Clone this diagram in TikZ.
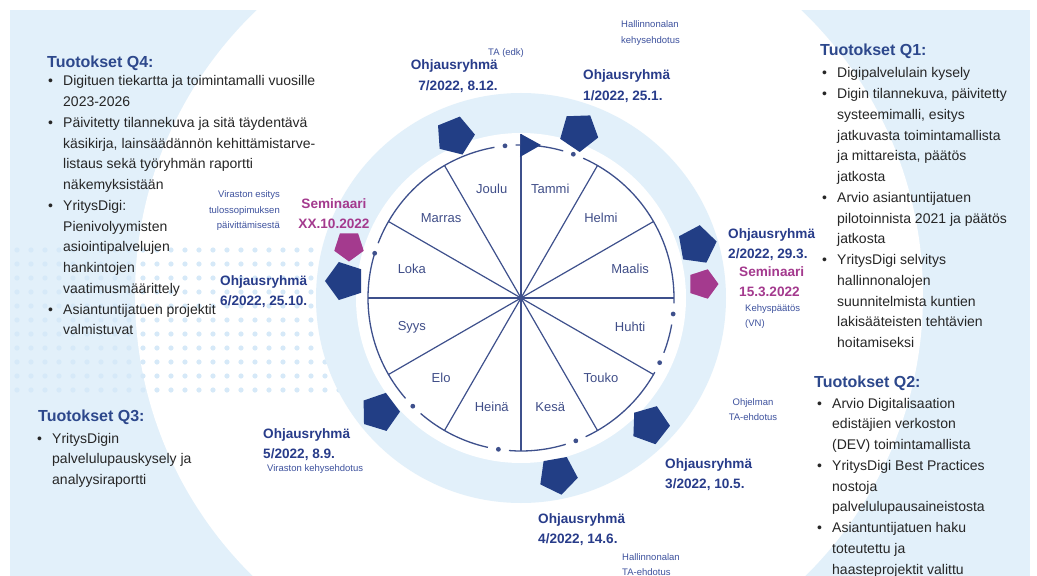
\documentclass[tikz,border=0pt]{standalone}
\usepackage{fontspec}
\setmainfont{Liberation Sans}
\usetikzlibrary{shapes.geometric, positioning}

\definecolor{bgblue}{RGB}{226,240,250}
\definecolor{dotblue}{RGB}{214,233,248}
\definecolor{navy}{RGB}{34,62,133}
\definecolor{wheelline}{RGB}{62,80,140}
\definecolor{headblue}{RGB}{45,72,140}
\definecolor{labelblue}{RGB}{40,60,138}
\definecolor{smallblue}{RGB}{62,82,158}
\definecolor{monthblue}{RGB}{64,78,136}
\definecolor{semmagenta}{RGB}{164,58,142}
\definecolor{bodygray}{RGB}{38,38,38}

\newcommand{\bulletlist}[1]{\begin{tabular}[t]{@{}p{15pt}@{}l@{}}#1\end{tabular}}
\newcommand{\textlines}[2][l]{\begin{tabular}[t]{@{}#1@{}}#2\end{tabular}}

\tikzstyle{heading} = [anchor=base west, inner sep=0, font=\fontsize{16}{19}\selectfont\bfseries, text=headblue]
\tikzstyle{bullets} = [anchor=base west, inner sep=0, font=\fontsize{14}{20.75}\selectfont, text=bodygray]
\tikzstyle{group} = [inner sep=0, font=\fontsize{13.6}{20.5}\selectfont\bfseries, text=labelblue]
\tikzstyle{seminar} = [group, text=semmagenta]
\tikzstyle{note} = [inner sep=0, font=\fontsize{9.5}{15.5}\selectfont, text=smallblue]
\tikzstyle{month} = [font=\fontsize{13}{15}\selectfont, text=monthblue]
\tikzstyle{meeting} = [regular polygon, regular polygon sides=5, minimum size=40pt, inner sep=0, fill=navy]
\tikzstyle{seminarmark} = [meeting, fill=semmagenta, minimum size=31pt]
\tikzstyle{spoke} = [draw=wheelline, line width=1.2pt]
\tikzstyle{rim} = [draw=wheelline, line width=1.3pt]

\begin{document}
\begin{tikzpicture}[x=1pt, y=1pt]
\useasboundingbox (-521,298) rectangle (516,-278);

% background
\fill[bgblue] (-511,288) rectangle (509,-278);
\begin{scope}
\clip (-511,288) rectangle (509,-278);
\fill[white] (8,3) circle[radius=394];
\end{scope}
\foreach \x in {-504,-490,...,-168}
  \foreach \y in {48,34,...,-104}
    \fill[dotblue] (\x,\y) circle[radius=2.6];
\fill[bgblue] (0,0) circle[radius=205];
\fill[white] (0,0) circle[radius=165];

% wheel
\node (hub) [circle, fill=wheelline, inner sep=0, minimum size=6pt] at (0,0) {};
\coordinate (flagtop) at (0,164);
\coordinate (bottom) at (0,-153);
\foreach \a in {0,30,60,120,150,180,210,240,300,330}
  \draw[spoke] (hub.center) -- (\a:153);
\draw[spoke, line width=2pt] (bottom) -- (flagtop);
\foreach \s/\e in {159/100, 92/74, 66/-2, -10/-21, -29/-65, -73/-94.5, -102.5/-131, -139/-197}
  \draw[rim] (\s:153) arc[start angle=\s, end angle=\e, radius=153];
\foreach \a in {163,96,70,-6,-25,-69,-98.5,-135}
  \fill[wheelline] (\a:153) circle[radius=2.4];
\fill[navy] (flagtop) -- (20,153) -- (-1,141) -- cycle;

\foreach \m [count=\i] in {Tammi,Helmi,Maalis,Huhti,Touko,Kesä,Heinä,Elo,Syys,Loka,Marras,Joulu}
  \node (m\i) [month] at ({105-30*\i}:113) {\m};

% meetings
\node (og7) [meeting, rotate=-158] at (-66,162) {};
\node (og1) [meeting, rotate=110] at (58,166) {};
\node (og2) [meeting, rotate=-80] at (176,53) {};
\node (sem3) [seminarmark, rotate=-90] at (182,14) {};
\node (og3) [meeting, rotate=-20] at (129,-127) {};
\node (og4) [meeting, rotate=-170] at (37,-177) {};
\node (og5) [meeting, rotate=55] at (-141,-114) {};
\node (og6) [meeting, rotate=90] at (-176,17) {};
\node (sem10) [seminarmark, rotate=180] at (-172,52) {};

\node (og7txt) [group, anchor=base east] at (-23,228) {\textlines[r]{Ohjausryhmä\\7/2022, 8.12.}};
\node (og1txt) [group, anchor=base west] at (62,218) {\textlines{Ohjausryhmä\\1/2022, 25.1.}};
\node (og2txt) [group, anchor=base west] at (207,60) {\textlines{Ohjausryhmä\\2/2022, 29.3.}};
\node (sem3txt) [seminar, anchor=base west] at (218,22) {\textlines{Seminaari\\15.3.2022}};
\node (vn) [note, anchor=base west] at (224,-13) {\textlines{Kehyspäätös\\(VN)}};
\node (ohjta) [note, anchor=base] at (232,-107) {\textlines[c]{Ohjelman\\TA-ehdotus}};
\node (og3txt) [group, anchor=base west] at (144,-170) {\textlines{Ohjausryhmä\\3/2022, 10.5.}};
\node (og4txt) [group, anchor=base west] at (17,-225) {\textlines{Ohjausryhmä\\4/2022, 14.6.}};
\node (hallta) [note, anchor=base west] at (101,-262) {\textlines{Hallinnonalan\\TA-ehdotus}};
\node (hallkehys) [note, anchor=base west] at (100,270) {\textlines{Hallinnonalan\\kehysehdotus}};
\node (taedk) [note, anchor=base west] at (-33,242) {TA (edk)};
\node (og5txt) [group, anchor=base west] at (-258,-140) {\textlines{Ohjausryhmä\\5/2022, 8.9.}};
\node (virkehys) [note, anchor=base west] at (-254,-173) {Viraston kehysehdotus};
\node (og6txt) [group, anchor=base west] at (-301,13) {\textlines{Ohjausryhmä\\6/2022, 25.10.}};
\node (sem10txt) [seminar, anchor=base] at (-187,90) {\textlines[c]{Seminaari\\XX.10.2022}};
\node (virtulos) [note, anchor=base east] at (-241,100) {\textlines[r]{Viraston esitys\\tulossopimuksen\\päivittämisestä}};

% outputs per quarter
\node (q4head) [heading] at (-474,230) {Tuotokset Q4:};
\node (q4list) [bullets] at (-473,212) {\bulletlist{
\textbullet & Digituen tiekartta ja toimintamalli vuosille\\
 & 2023-2026\\
\textbullet & Päivitetty tilannekuva ja sitä täydentävä\\
 & käsikirja, lainsäädännön kehittämistarve-\\
 & listaus sekä työryhmän raportti\\
 & näkemyksistään\\
\textbullet & YritysDigi:\\
 & Pienivolyymisten\\
 & asiointipalvelujen\\
 & hankintojen\\
 & vaatimusmäärittely\\
\textbullet & Asiantuntijatuen projektit\\
 & valmistuvat}};

\node (q1head) [heading] at (299,242) {Tuotokset Q1:};
\node (q1list) [bullets] at (301,220) {\bulletlist{
\textbullet & Digipalvelulain kysely\\
\textbullet & Digin tilannekuva, päivitetty\\
 & systeemimalli, esitys\\
 & jatkuvasta toimintamallista\\
 & ja mittareista, päätös\\
 & jatkosta\\
\textbullet & Arvio asiantuntijatuen\\
 & pilotoinnista 2021 ja päätös\\
 & jatkosta\\
\textbullet & YritysDigi selvitys\\
 & hallinnonalojen\\
 & suunnitelmista kuntien\\
 & lakisääteisten tehtävien\\
 & hoitamiseksi}};

\node (q2head) [heading] at (293,-89) {Tuotokset Q2:};
\node (q2list) [bullets] at (296,-110) {\bulletlist{
\textbullet & Arvio Digitalisaation\\
 & edistäjien verkoston\\
 & (DEV) toimintamallista\\
\textbullet & YritysDigi Best Practices\\
 & nostoja\\
 & palvelulupausaineistosta\\
\textbullet & Asiantuntijatuen haku\\
 & toteutettu ja\\
 & haasteprojektit valittu}};

\node (q3head) [heading] at (-483,-123) {Tuotokset Q3:};
\node (q3list) [bullets] at (-484,-145) {\bulletlist{
\textbullet & YritysDigin\\
 & palvelulupauskysely ja\\
 & analyysiraportti}};
\end{tikzpicture}
\end{document}
